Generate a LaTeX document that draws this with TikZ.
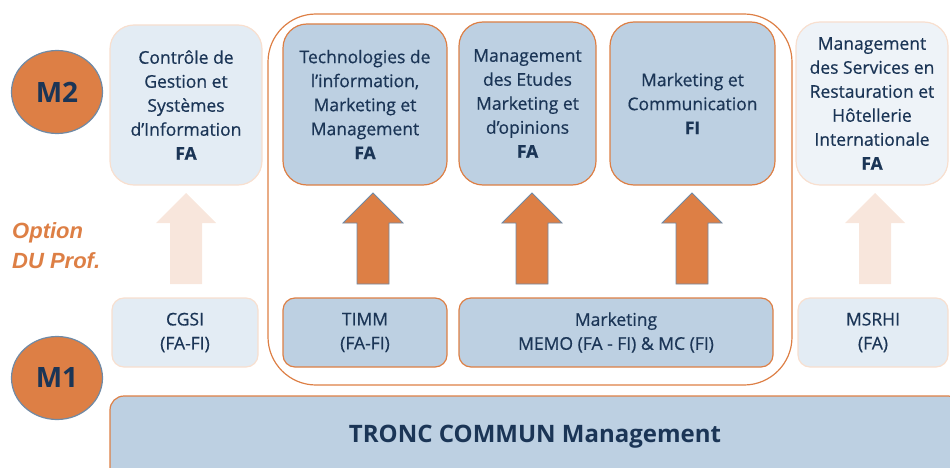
\documentclass[tikz,border=0pt]{standalone}
\usepackage{fontspec}
\setmainfont{Open Sans}
\newfontfamily\medfont[FakeBold=0.6]{Open Sans}
\newfontfamily\optfont{Liberation Sans}
\usetikzlibrary{calc,shapes.geometric}
\definecolor{navy}{HTML}{1B3556}
\definecolor{orng}{HTML}{DD7F45}
\definecolor{darkfill}{HTML}{BDD0E2}
\definecolor{lightfill}{HTML}{E3ECF4}
\definecolor{palefill}{HTML}{EEF3F8}
\definecolor{paleedge}{HTML}{F8DFCF}
\definecolor{palearrow}{HTML}{F8E6DC}
\definecolor{ringedge}{HTML}{6F8AA6}
\tikzset{
  boxtext/.style={text=navy, align=center, font=\medfont\fontsize{17.5}{24}\selectfont, inner sep=0pt},
  mtwodark/.style={boxtext, draw=orng, line width=1.2pt, fill=darkfill, rounded corners=24pt},
  mtwolight/.style={boxtext, draw=paleedge, line width=1.2pt, fill=lightfill, rounded corners=24pt},
  mtwopale/.style={boxtext, draw=paleedge, line width=1.2pt, fill=palefill, rounded corners=24pt},
  monedark/.style={boxtext, draw=orng, line width=1.2pt, fill=darkfill, rounded corners=12pt},
  monelight/.style={boxtext, draw=paleedge, line width=1.2pt, fill=lightfill, rounded corners=12pt},
  level/.style={ellipse, draw=ringedge, line width=1.2pt, fill=orng, text=navy, font=\fontsize{28}{30}\selectfont\bfseries, minimum width=91pt, minimum height=83pt, inner sep=0pt},
  hotarrow/.style={fill=orng, draw=ringedge, line width=0.8pt},
  coolarrow/.style={fill=palearrow, draw=none},
  pics/uparrow/.style={code={
    \path[pic actions] (-16,0) -- (-16,-61) -- (-30,-61) -- (0,-91) -- (30,-61) -- (16,-61) -- (16,0) -- cycle;
  }}
}
\begin{document}
\begin{tikzpicture}[x=1pt,y=-1pt]
\useasboundingbox (0,0) rectangle (950,468);
\begin{scope}
\clip (0,0) rectangle (950,468);
% group outline
\draw[orng, line width=1.2pt, rounded corners=48pt] (268,14) rectangle (792,385);
% M2 row
\node[mtwolight, minimum width=152pt, minimum height=160pt] (cgsitwo) at (186,105)
  {Contrôle de\\Gestion et\\Systèmes\\d’Information\\\textbf{FA}};
\node[mtwodark, minimum width=164pt, minimum height=161pt] (timmtwo) at (365,104.5)
  {Technologies de\\l’information,\\Marketing et\\Management\\\textbf{FA}};
\node[mtwodark, minimum width=137pt, minimum height=163pt] (memotwo) at (527.5,103.5)
  {Management\\des Etudes\\Marketing et\\d’opinions\\\textbf{FA}};
\node[mtwodark, minimum width=165pt, minimum height=163pt] (mctwo) at (692.5,103.5)
  {Marketing et\\Communication\\\textbf{FI}};
\node[mtwopale, minimum width=152pt, minimum height=163pt] (msrhitwo) at (872,103.5)
  {Management\\des Services en\\Restauration et\\Hôtellerie\\Internationale\\\textbf{FA}};
% M1 row
\node[monelight, minimum width=146pt, minimum height=69pt] (cgsione) at (185,332.5)
  {CGSI\\(FA-FI)};
\node[monedark, minimum width=164pt, minimum height=69pt] (timmone) at (365,332.5)
  {TIMM\\(FA-FI)};
\node[monedark, minimum width=314pt, minimum height=69pt] (mktone) at (616,332.5)
  {Marketing\\MEMO (FA - FI) \& MC (FI)};
\node[monelight, minimum width=150pt, minimum height=69pt] (msrhione) at (873,332.5)
  {MSRHI\\(FA)};
% tronc commun
\node[draw=orng, line width=1.2pt, fill=darkfill, rounded corners=14pt,
  minimum width=852pt, minimum height=90pt, inner sep=0pt]
  (tronc) at (536,441) {};
\node[text=navy, font=\fontsize{24}{28}\selectfont\bfseries, inner sep=0pt] (tronctext) at (535,437)
  {TRONC COMMUN Management};
\end{scope}
% arrows
\pic[coolarrow] at (186,284) {uparrow};
\pic[hotarrow] at (373,284) {uparrow};
\pic[hotarrow] at (532,284) {uparrow};
\pic[hotarrow] at (692,284) {uparrow};
\pic[coolarrow] at (875,284) {uparrow};
% levels
\node[level] (mtwo) at (57,92) {M2};
\node[level] (mone) at (57,378) {M1};
% option
\node[anchor=west, align=left, text=orng, inner sep=0pt,
  font=\optfont\fontsize{22}{30}\selectfont\bfseries\itshape] (option) at (12,246)
  {Option\\DU Prof.};
\end{tikzpicture}
\end{document}
